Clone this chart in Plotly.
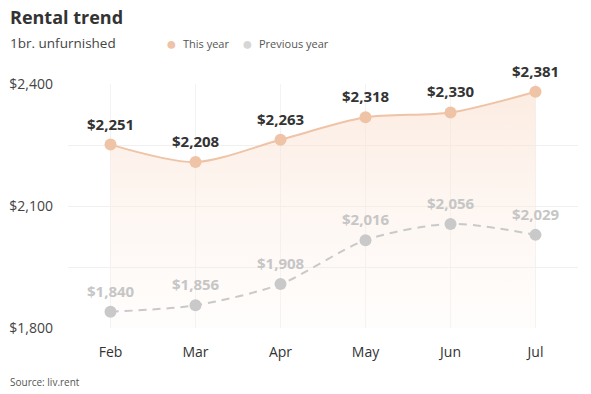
import plotly.graph_objects as go

months = ["Feb", "Mar", "Apr", "May", "Jun", "Jul"]
this_year = [2251, 2208, 2263, 2318, 2330, 2381]
prev_year = [1840, 1856, 1908, 2016, 2056, 2029]
tick_vals = [1800, 1950, 2100, 2250, 2400]
tick_text = ["$1,800", "", "$2,100", "", "$2,400"]

PEACH = "#efc3a6"
GRAY = "#c9c9c9"
FONT = "Open Sans"

W, H = 591, 394
L, R, T, B = 68, 13, 84, 66
PW, PH = W - L - R, H - T - B

def px(xp):
    return (xp - L) / PW

def py(yp):
    return (H - B - yp) / PH

def fmt(v):
    return "${:,}".format(v)

fig = go.Figure()

fig.add_trace(go.Scatter(
    x=months, y=this_year, mode="lines+markers",
    line=dict(color=PEACH, width=2, shape="spline", smoothing=0.8),
    marker=dict(color=PEACH, size=12),
    fill="tozeroy",
    fillgradient=dict(type="vertical", start=1800, stop=2400,
                      colorscale=[[0, "rgba(253,240,232,0.15)"], [1, "rgba(250,222,204,0.6)"]]),
    showlegend=False, cliponaxis=False, hoverinfo="skip",
))

fig.add_trace(go.Scatter(
    x=months, y=prev_year, mode="lines+markers",
    line=dict(color=GRAY, width=2, shape="spline", smoothing=0.8, dash="8px,6px"),
    marker=dict(color=GRAY, size=12),
    showlegend=False, cliponaxis=False, hoverinfo="skip",
))

annotations = [
    dict(text="<b>Rental trend</b>", x=px(8), y=py(17),
         font=dict(family=FONT, size=18, color="#333333")),
    dict(text="1br. unfurnished", x=px(8), y=py(43),
         font=dict(family=FONT, size=13.5, color="#444444")),
    dict(text="<span style='color:%s'>●</span>" % PEACH, x=px(164), y=py(43),
         font=dict(family=FONT, size=18)),
    dict(text="This year", x=px(181), y=py(43),
         font=dict(family=FONT, size=11, color="#555555")),
    dict(text="<span style='color:#d6d6d6'>●</span>", x=px(240), y=py(43),
         font=dict(family=FONT, size=18)),
    dict(text="Previous year", x=px(257), y=py(43),
         font=dict(family=FONT, size=11, color="#555555")),
    dict(text="Source: liv.rent", x=px(8), y=py(382),
         font=dict(family=FONT, size=10, color="#555555")),
]
for a in annotations:
    a.update(xref="paper", yref="paper", showarrow=False, xanchor="left", yanchor="middle")

for series, color in ((this_year, "#333333"), (prev_year, "#c6c6c6")):
    for m, v in zip(months, series):
        annotations.append(dict(
            text="<b>%s</b>" % fmt(v), x=m, y=v, xref="x", yref="y",
            showarrow=False, xanchor="center", yanchor="middle", yshift=21,
            font=dict(family=FONT, size=15, color=color)))

fig.update_layout(
    width=W, height=H,
    margin=dict(l=L, r=R, t=T, b=B, autoexpand=False),
    paper_bgcolor="white", plot_bgcolor="white",
    font=dict(family=FONT, color="#444444"),
    showlegend=False,
    xaxis=dict(range=[-0.5, 5.5], showgrid=True, gridcolor="#f3f3f3", gridwidth=1,
               zeroline=False, showline=False, ticks="", automargin=False,
               ticklabelstandoff=14,
               tickfont=dict(family=FONT, size=14, color="#333333"), fixedrange=True),
    yaxis=dict(range=[1800, 2400], tickvals=tick_vals, ticktext=tick_text,
               showgrid=True, gridcolor="#f0f0f0", gridwidth=1, zeroline=False,
               showline=False, ticks="", ticklabelstandoff=14, automargin=False,
               tickfont=dict(family=FONT, size=14, color="#444444"), fixedrange=True),
    annotations=annotations,
)

fig.write_html("out.html", config={"displayModeBar": False},
               post_script="document.body.style.margin='0';document.body.style.padding='0';")
